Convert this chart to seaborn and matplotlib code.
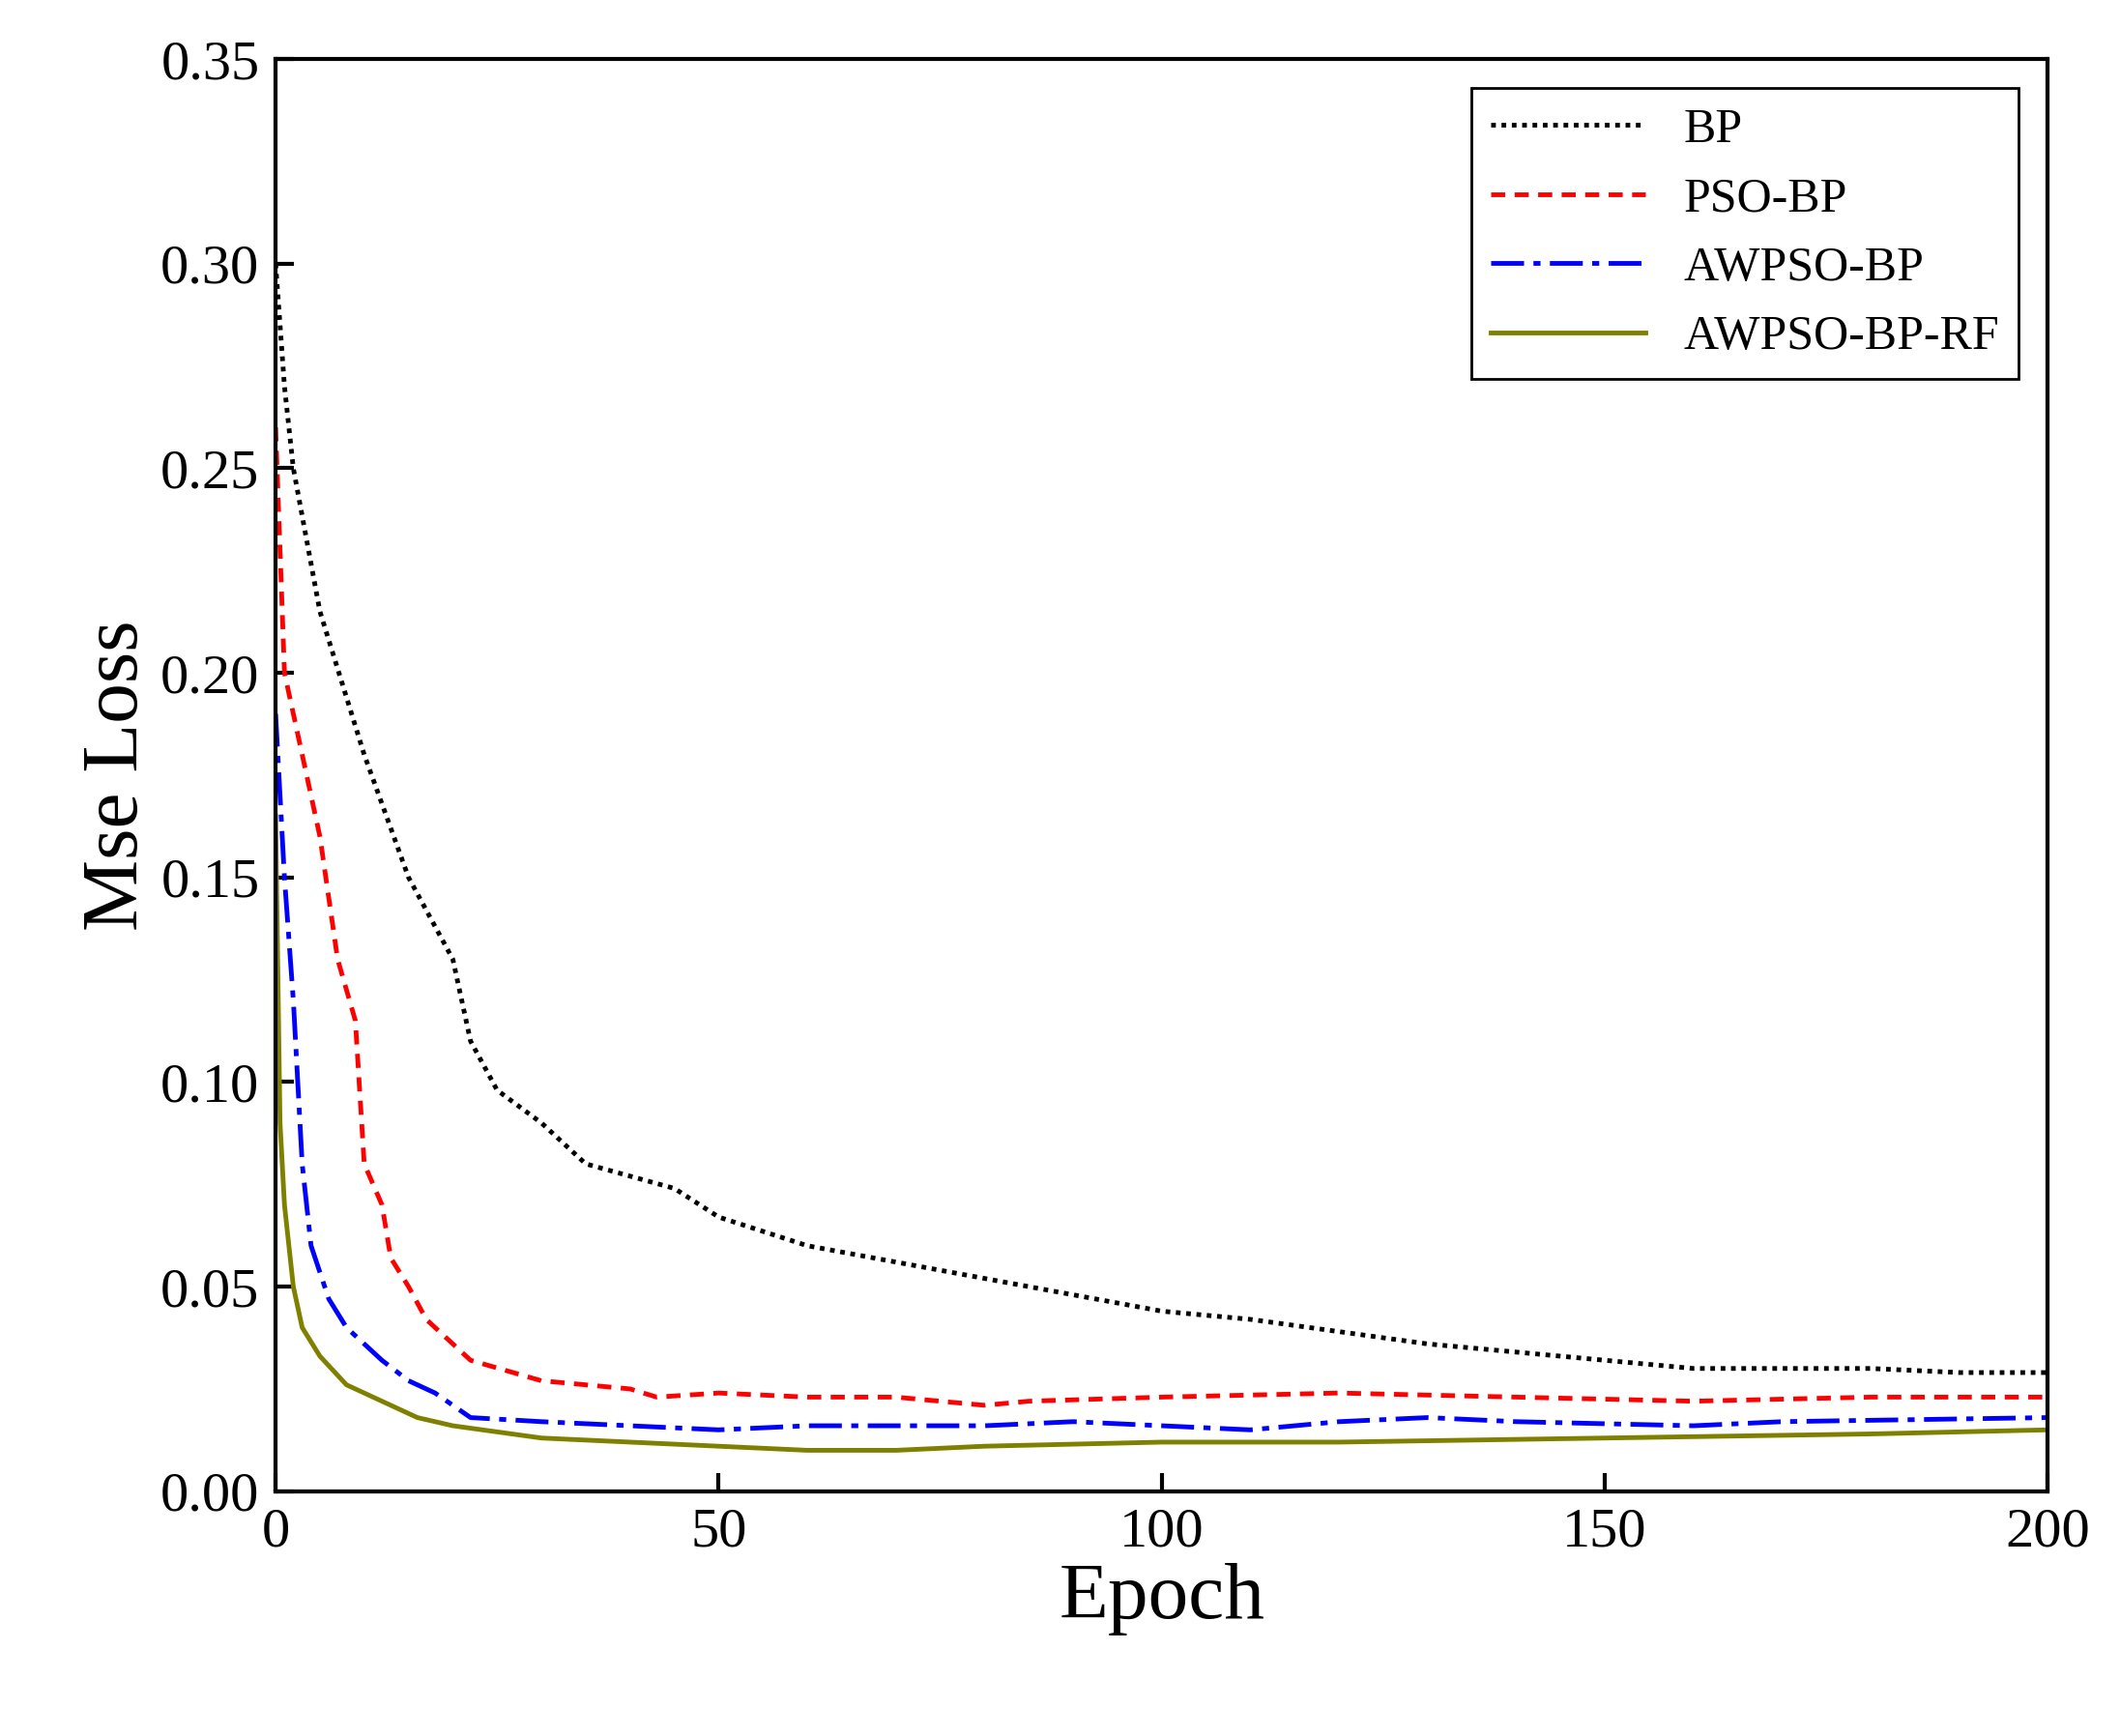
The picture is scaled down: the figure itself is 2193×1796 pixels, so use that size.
import matplotlib
matplotlib.use("Agg")
import matplotlib.pyplot as plt
import seaborn as sns
import pandas as pd

bp_x = [0,1,2,5,10,15,20,22,25,30,35,40,45,50,60,70,80,90,100,110,120,130,140,150,160,170,180,190,200]
bp_y = [0.30,0.27,0.25,0.215,0.18,0.15,0.13,0.11,0.098,0.09,0.08,0.077,0.074,0.067,0.06,0.056,0.052,0.048,0.044,0.042,0.039,0.036,0.034,0.032,0.030,0.030,0.030,0.029,0.029]
pso_x = [0,1,2,3,5,7,9,10,12,13,15,17,20,22,30,40,43,50,60,70,80,85,100,120,140,160,180,200]
pso_y = [0.26,0.20,0.19,0.18,0.16,0.13,0.115,0.08,0.07,0.057,0.05,0.042,0.036,0.032,0.027,0.025,0.023,0.024,0.023,0.023,0.021,0.022,0.023,0.024,0.023,0.022,0.023,0.023]
aw_x = [0,1,2,3,4,6,8,12,15,18,22,30,40,50,60,70,80,90,100,110,120,130,140,160,170,200]
aw_y = [0.19,0.15,0.12,0.08,0.06,0.047,0.04,0.032,0.027,0.024,0.018,0.017,0.016,0.015,0.016,0.016,0.016,0.017,0.016,0.015,0.017,0.018,0.017,0.016,0.017,0.018]
rf_x = [0,0.5,1,2,3,5,8,12,16,20,30,40,50,60,70,80,100,120,150,180,200]
rf_y = [0.165,0.09,0.07,0.05,0.04,0.033,0.026,0.022,0.018,0.016,0.013,0.012,0.011,0.010,0.010,0.011,0.012,0.012,0.013,0.014,0.015]

names = ["BP", "PSO-BP", "AWPSO-BP", "AWPSO-BP-RF"]
colors = ["black", "#ff0000", "#0000ff", "#808000"]
styles = [(0, (1, 1.2)), (0, (3, 2)), (0, (7, 2, 1.5, 2)), "-"]

plt.rcParams["font.family"] = "Liberation Serif"
fig = plt.figure(figsize=(21.93, 17.96), dpi=100)
ax = fig.add_axes([0.130, 0.141, 0.836, 0.825])
for n, xs, ys, c, ls in zip(names, [bp_x, pso_x, aw_x, rf_x], [bp_y, pso_y, aw_y, rf_y], colors, styles):
    df = pd.DataFrame({"Epoch": xs, "Loss": ys})
    sns.lineplot(data=df, x="Epoch", y="Loss", ax=ax, color=c, linestyle=ls, linewidth=3.5, label=n)

ax.set_xlim(0, 200)
ax.set_ylim(0, 0.35)
ax.set_xticks([0, 50, 100, 150, 200])
ax.set_yticks([0, 0.05, 0.10, 0.15, 0.20, 0.25, 0.30, 0.35])
ax.set_yticklabels([f"{v:.2f}" for v in ax.get_yticks()])
ax.tick_params(direction="in", length=14, width=3, labelsize=42, pad=12)
for s in ax.spines.values():
    s.set_linewidth(3)
ax.set_xlabel("Epoch", fontsize=60)
ax.set_ylabel("Mse Loss", fontsize=60)
leg = ax.legend(loc="upper right", fontsize=36, frameon=True, fancybox=False,
                edgecolor="black", handlelength=3.2, borderaxespad=0.6)
leg.get_frame().set_linewidth(2)
leg.get_frame().set_alpha(1)
fig.savefig("out.png", dpi=100)
